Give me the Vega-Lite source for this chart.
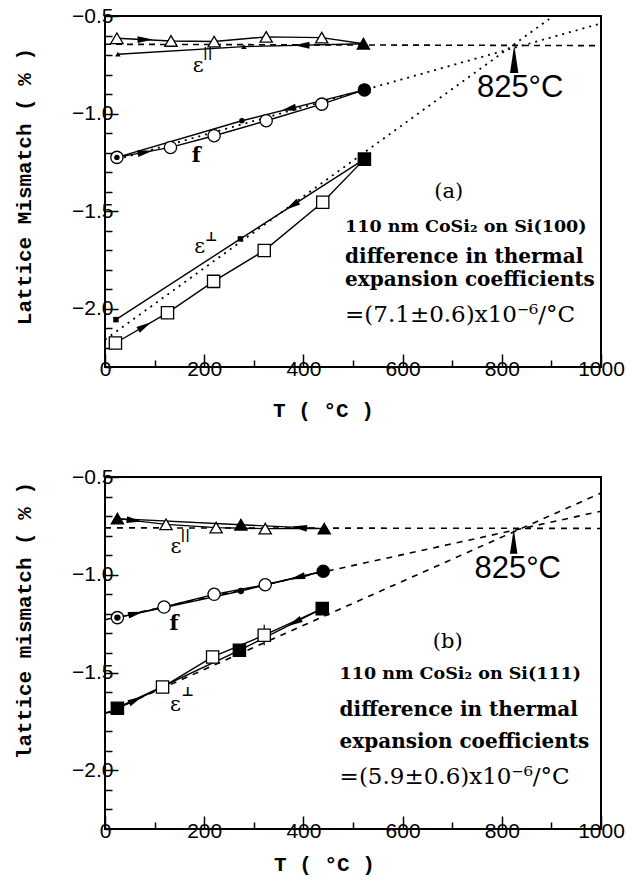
{
  "$schema": "https://vega.github.io/schema/vega-lite/v6.json",
  "padding": {"left": 12, "top": 4, "right": 0, "bottom": 5},
  "background": "white",
  "config": {
    "view": {"stroke": "black", "strokeWidth": 2},
    "axis": {
      "domain": false, "grid": false,
      "labelFont": "Liberation Sans", "labelFontSize": 21, "labelColor": "black",
      "titleFont": "Liberation Mono", "titleFontSize": 21, "titleFontWeight": "bold", "titleColor": "black",
      "tickColor": "black", "tickWidth": 1.5
    }
  },
  "datasets": {
    "a_fit": [
      {"s": "par", "T": 0, "v": -0.645}, {"s": "par", "T": 1000, "v": -0.652},
      {"s": "f", "T": 25, "v": -1.235}, {"s": "f", "T": 1000, "v": -0.538},
      {"s": "perp", "T": 0, "v": -2.16}, {"s": "perp", "T": 904, "v": -0.5}
    ],
    "a_lines": [
      {"s": "par", "p": "heat", "T": 24, "v": -0.614}, {"s": "par", "p": "heat", "T": 133, "v": -0.628},
      {"s": "par", "p": "heat", "T": 220, "v": -0.631}, {"s": "par", "p": "heat", "T": 325, "v": -0.607},
      {"s": "par", "p": "heat", "T": 437, "v": -0.611}, {"s": "par", "p": "heat", "T": 521, "v": -0.642},
      {"s": "par", "p": "cool", "T": 521, "v": -0.642}, {"s": "par", "p": "cool", "T": 280, "v": -0.657},
      {"s": "par", "p": "cool", "T": 26, "v": -0.696},
      {"s": "f", "p": "heat", "T": 24, "v": -1.225}, {"s": "f", "p": "heat", "T": 132, "v": -1.174},
      {"s": "f", "p": "heat", "T": 220, "v": -1.114}, {"s": "f", "p": "heat", "T": 325, "v": -1.037},
      {"s": "f", "p": "heat", "T": 437, "v": -0.952}, {"s": "f", "p": "heat", "T": 523, "v": -0.879},
      {"s": "f", "p": "cool", "T": 523, "v": -0.879}, {"s": "f", "p": "cool", "T": 276, "v": -1.037},
      {"s": "f", "p": "cool", "T": 24, "v": -1.225},
      {"s": "perp", "p": "heat", "T": 21, "v": -2.177}, {"s": "perp", "p": "heat", "T": 126, "v": -2.022},
      {"s": "perp", "p": "heat", "T": 219, "v": -1.861}, {"s": "perp", "p": "heat", "T": 321, "v": -1.703},
      {"s": "perp", "p": "heat", "T": 439, "v": -1.455}, {"s": "perp", "p": "heat", "T": 523, "v": -1.234},
      {"s": "perp", "p": "cool", "T": 523, "v": -1.234}, {"s": "perp", "p": "cool", "T": 273, "v": -1.643},
      {"s": "perp", "p": "cool", "T": 22, "v": -2.057}
    ],
    "a_pts": [
      {"s": "par", "m": "open", "T": 24, "v": -0.614}, {"s": "par", "m": "open", "T": 133, "v": -0.628},
      {"s": "par", "m": "open", "T": 220, "v": -0.631}, {"s": "par", "m": "open", "T": 325, "v": -0.607},
      {"s": "par", "m": "open", "T": 437, "v": -0.611}, {"s": "par", "m": "filled", "T": 521, "v": -0.642},
      {"s": "par", "m": "small", "T": 280, "v": -0.657}, {"s": "par", "m": "small", "T": 26, "v": -0.696},
      {"s": "f", "m": "open", "T": 24, "v": -1.225}, {"s": "f", "m": "open", "T": 132, "v": -1.174},
      {"s": "f", "m": "open", "T": 220, "v": -1.114}, {"s": "f", "m": "open", "T": 325, "v": -1.037},
      {"s": "f", "m": "open", "T": 437, "v": -0.952}, {"s": "f", "m": "filled", "T": 523, "v": -0.879},
      {"s": "f", "m": "small", "T": 276, "v": -1.037}, {"s": "f", "m": "small", "T": 24, "v": -1.225},
      {"s": "perp", "m": "open", "T": 21, "v": -2.177}, {"s": "perp", "m": "open", "T": 126, "v": -2.022},
      {"s": "perp", "m": "open", "T": 219, "v": -1.861}, {"s": "perp", "m": "open", "T": 321, "v": -1.703},
      {"s": "perp", "m": "open", "T": 439, "v": -1.455}, {"s": "perp", "m": "filled", "T": 523, "v": -1.234},
      {"s": "perp", "m": "small", "T": 273, "v": -1.643}, {"s": "perp", "m": "small", "T": 22, "v": -2.057}
    ],
    "a_arr": [
      {"T": 81, "v": -0.621, "rot": 0}, {"T": 397, "v": -0.65, "rot": 180},
      {"T": 81, "v": -1.198, "rot": 349}, {"T": 370, "v": -0.977, "rot": 166},
      {"T": 80, "v": -2.09, "rot": 330}, {"T": 377, "v": -1.473, "rot": 147}
    ],
    "a_ptr": [{"T": 825, "v": -0.72}],
    "a_825": [{"T": 837, "v": -0.868, "t": "825°C"}],
    "a_greek": [
      {"T": 188, "v": -0.756, "t": "ε"}, {"T": 191, "v": -1.686, "t": "ε"}
    ],
    "a_sup": [
      {"T": 207, "v": -0.69, "t": "||"}, {"T": 214, "v": -1.635, "t": "⊥"}
    ],
    "a_f": [{"T": 184, "v": -1.22, "t": "f"}],
    "a_tag": [{"T": 693, "v": -1.404, "t": "(a)"}],
    "a_note1": [{"T": 484, "v": -1.58, "t": "110 nm CoSi₂ on Si(100)"}],
    "a_note2": [
      {"T": 484, "v": -1.737, "t": "difference in thermal"},
      {"T": 484, "v": -1.856, "t": "expansion coefficients"}
    ],
    "a_note3": [{"T": 484, "v": -2.035, "t": "=(7.1±0.6)x10⁻⁶/°C"}],

    "b_fit": [
      {"s": "par", "T": 0, "v": -0.76}, {"s": "par", "T": 1000, "v": -0.763},
      {"s": "f", "T": 0, "v": -1.23}, {"s": "f", "T": 1000, "v": -0.675},
      {"s": "perp", "T": 0, "v": -1.71}, {"s": "perp", "T": 1000, "v": -0.582}
    ],
    "b_lines": [
      {"s": "par", "p": "heat", "T": 25, "v": -0.713}, {"s": "par", "p": "heat", "T": 123, "v": -0.742},
      {"s": "par", "p": "heat", "T": 224, "v": -0.759}, {"s": "par", "p": "heat", "T": 323, "v": -0.764},
      {"s": "par", "p": "heat", "T": 442, "v": -0.764},
      {"s": "par", "p": "cool", "T": 442, "v": -0.764}, {"s": "par", "p": "cool", "T": 274, "v": -0.744},
      {"s": "par", "p": "cool", "T": 25, "v": -0.713},
      {"s": "f", "p": "heat", "T": 25, "v": -1.219}, {"s": "f", "p": "heat", "T": 119, "v": -1.165},
      {"s": "f", "p": "heat", "T": 220, "v": -1.10}, {"s": "f", "p": "heat", "T": 323, "v": -1.051},
      {"s": "f", "p": "heat", "T": 440, "v": -0.982},
      {"s": "f", "p": "cool", "T": 440, "v": -0.982}, {"s": "f", "p": "cool", "T": 274, "v": -1.083},
      {"s": "f", "p": "cool", "T": 25, "v": -1.219},
      {"s": "perp", "p": "heat", "T": 25, "v": -1.685}, {"s": "perp", "p": "heat", "T": 116, "v": -1.574},
      {"s": "perp", "p": "heat", "T": 217, "v": -1.42}, {"s": "perp", "p": "heat", "T": 321, "v": -1.309},
      {"s": "perp", "p": "heat", "T": 438, "v": -1.173},
      {"s": "perp", "p": "cool", "T": 438, "v": -1.173}, {"s": "perp", "p": "cool", "T": 271, "v": -1.386},
      {"s": "perp", "p": "cool", "T": 25, "v": -1.68}
    ],
    "b_pts": [
      {"s": "par", "m": "open", "T": 123, "v": -0.742}, {"s": "par", "m": "open", "T": 224, "v": -0.759},
      {"s": "par", "m": "open", "T": 323, "v": -0.764}, {"s": "par", "m": "filled", "T": 25, "v": -0.713},
      {"s": "par", "m": "filled", "T": 274, "v": -0.744}, {"s": "par", "m": "filled", "T": 442, "v": -0.764},
      {"s": "f", "m": "open", "T": 25, "v": -1.219}, {"s": "f", "m": "open", "T": 119, "v": -1.165},
      {"s": "f", "m": "open", "T": 220, "v": -1.10}, {"s": "f", "m": "open", "T": 323, "v": -1.051},
      {"s": "f", "m": "filled", "T": 440, "v": -0.982}, {"s": "f", "m": "small", "T": 274, "v": -1.083},
      {"s": "f", "m": "small", "T": 25, "v": -1.219},
      {"s": "perp", "m": "open", "T": 116, "v": -1.574}, {"s": "perp", "m": "open", "T": 217, "v": -1.42},
      {"s": "perp", "m": "open", "T": 321, "v": -1.309}, {"s": "perp", "m": "filled", "T": 25, "v": -1.683},
      {"s": "perp", "m": "filled", "T": 271, "v": -1.386}, {"s": "perp", "m": "filled", "T": 438, "v": -1.173}
    ],
    "b_arr": [
      {"T": 59, "v": -0.723, "rot": 7}, {"T": 392, "v": -0.758, "rot": 187},
      {"T": 62, "v": -1.198, "rot": 347}, {"T": 388, "v": -1.014, "rot": 166},
      {"T": 62, "v": -1.64, "rot": 334}, {"T": 382, "v": -1.244, "rot": 153}
    ],
    "b_err": [{"T": 321, "lo": -1.36, "hi": -1.255}],
    "b_ptr": [{"T": 824, "v": -0.828}],
    "b_825": [{"T": 832, "v": -0.969, "t": "825°C"}],
    "b_greek": [
      {"T": 143, "v": -0.858, "t": "ε"}, {"T": 142, "v": -1.667, "t": "ε"}
    ],
    "b_sup": [
      {"T": 162, "v": -0.797, "t": "||"}, {"T": 167, "v": -1.6, "t": "⊥"}
    ],
    "b_f": [{"T": 139, "v": -1.25, "t": "f"}],
    "b_tag": [{"T": 691, "v": -1.344, "t": "(b)"}],
    "b_note1": [{"T": 473, "v": -1.506, "t": "110 nm CoSi₂ on Si(111)"}],
    "b_note2": [
      {"T": 473, "v": -1.693, "t": "difference in thermal"},
      {"T": 473, "v": -1.855, "t": "expansion coefficients"}
    ],
    "b_note3": [{"T": 473, "v": -2.034, "t": "=(5.9±0.6)x10⁻⁶/°C"}]
  },
  "bounds": "flush",
  "spacing": 110,
  "vconcat": [
    {
      "width": 496, "height": 351,
      "encoding": {
        "x": {"field": "T", "type": "quantitative", "scale": {"domain": [0, 1000], "nice": false},
          "axis": {"title": "T ( °C )", "values": [0,100,200,300,400,500,600,700,800,900,1000],
            "labelExpr": "round(datum.value) % 200 == 0 ? format(datum.value, 'd') : ''",
            "labelFlush": false, "labelOverlap": false,
            "tickSize": {"condition": {"test": "round(datum.value) % 200 == 0", "value": -13}, "value": -7},
            "labelPadding": 4, "titlePadding": 14, "titleX": 218, "titleAnchor": "start", "titleAlign": "center"}},
        "y": {"field": "v", "type": "quantitative", "scale": {"domain": [-2.3, -0.5], "nice": false, "zero": false},
          "axis": {"title": "Lattice Mismatch ( % )", "values": [-0.5,-0.6,-0.7,-0.8,-0.9,-1.0,-1.1,-1.2,-1.3,-1.4,-1.5,-1.6,-1.7,-1.8,-1.9,-2.0,-2.1,-2.2,-2.3],
            "labelExpr": "round(datum.value*10) % 5 == 0 ? format(datum.value, '.1f') : ''",
            "labelFlush": false, "labelOverlap": false,
            "tickSize": {"condition": {"test": "round(datum.value*10) % 5 == 0", "value": -13}, "value": -7},
            "labelPadding": 5, "titlePadding": 37, "titleY": 170, "titleAlign": "center"}}
      },
      "layer": [
        {"data": {"name": "a_fit"}, "transform": [{"filter": "datum.s != 'par'"}],
         "mark": {"type": "line", "color": "black", "strokeWidth": 1.8, "strokeDash": [2, 5]},
         "encoding": {"detail": {"field": "s"}}},
        {"data": {"name": "a_fit"}, "transform": [{"filter": "datum.s == 'par'"}],
         "mark": {"type": "line", "color": "black", "strokeWidth": 1.6, "strokeDash": [6, 5]},
         "encoding": {"detail": {"field": "s"}}},
        {"data": {"name": "a_lines"},
         "mark": {"type": "line", "color": "black", "strokeWidth": 1.4},
         "encoding": {"detail": [{"field": "s"}, {"field": "p"}]}},
        {"data": {"name": "a_arr"},
         "mark": {"type": "point", "shape": "M1,0L-1,-0.45L-1,0.45Z", "filled": true, "color": "black", "opacity": 1, "size": 230},
         "encoding": {"angle": {"field": "rot", "type": "quantitative", "scale": null}}},
        {"data": {"name": "a_pts"}, "transform": [{"filter": "datum.m != 'small'"}],
         "mark": {"type": "point", "stroke": "black", "strokeWidth": 1.3, "opacity": 1, "size": 150},
         "encoding": {
           "shape": {"field": "s", "type": "nominal", "scale": {"domain": ["par","f","perp"], "range": ["triangle-up","circle","square"]}, "legend": null},
           "fill": {"field": "m", "type": "nominal", "scale": {"domain": ["open","filled"], "range": ["white","black"]}, "legend": null}
         }},
        {"data": {"name": "a_pts"}, "transform": [{"filter": "datum.m == 'small'"}],
         "mark": {"type": "point", "filled": true, "color": "black", "opacity": 1, "size": 30},
         "encoding": {
           "shape": {"field": "s", "type": "nominal", "scale": {"domain": ["par","f","perp"], "range": ["triangle-up","circle","square"]}, "legend": null}
         }},
        {"data": {"name": "a_ptr"},
         "mark": {"type": "point", "shape": "M0,-1L0.3,1L-0.3,1Z", "filled": true, "color": "black", "opacity": 1, "size": 784}},
        {"data": {"name": "a_825"},
         "mark": {"type": "text", "font": "Liberation Sans", "fontSize": 31, "color": "black", "align": "center", "baseline": "middle"},
         "encoding": {"text": {"field": "t"}}},
        {"data": {"name": "a_greek"},
         "mark": {"type": "text", "font": "DejaVu Serif", "fontSize": 21, "color": "black", "align": "center", "baseline": "middle"},
         "encoding": {"text": {"field": "t"}}},
        {"data": {"name": "a_sup"},
         "mark": {"type": "text", "font": "DejaVu Serif", "fontSize": 13, "fontWeight": "bold", "color": "black", "align": "center", "baseline": "middle"},
         "encoding": {"text": {"field": "t"}}},
        {"data": {"name": "a_f"},
         "mark": {"type": "text", "font": "DejaVu Serif", "fontSize": 21, "fontWeight": "bold", "color": "black", "align": "center", "baseline": "middle"},
         "encoding": {"text": {"field": "t"}}},
        {"data": {"name": "a_tag"},
         "mark": {"type": "text", "font": "DejaVu Serif", "fontSize": 21, "color": "black", "align": "center", "baseline": "middle"},
         "encoding": {"text": {"field": "t"}}},
        {"data": {"name": "a_note1"},
         "mark": {"type": "text", "font": "DejaVu Serif", "fontSize": 17.5, "fontWeight": "bold", "color": "black", "align": "left", "baseline": "middle"},
         "encoding": {"text": {"field": "t"}}},
        {"data": {"name": "a_note2"},
         "mark": {"type": "text", "font": "DejaVu Serif", "fontSize": 20, "fontWeight": "bold", "color": "black", "align": "left", "baseline": "middle"},
         "encoding": {"text": {"field": "t"}}},
        {"data": {"name": "a_note3"},
         "mark": {"type": "text", "font": "DejaVu Serif", "fontSize": 23, "color": "black", "align": "left", "baseline": "middle"},
         "encoding": {"text": {"field": "t"}}}
      ]
    },
    {
      "width": 496, "height": 352,
      "encoding": {
        "x": {"field": "T", "type": "quantitative", "scale": {"domain": [0, 1000], "nice": false},
          "axis": {"title": "T ( °C )", "values": [0,100,200,300,400,500,600,700,800,900,1000],
            "labelExpr": "round(datum.value) % 200 == 0 ? format(datum.value, 'd') : ''",
            "labelFlush": false, "labelOverlap": false,
            "tickSize": {"condition": {"test": "round(datum.value) % 200 == 0", "value": -13}, "value": -7},
            "labelPadding": 4, "titlePadding": 6, "titleX": 219, "titleAnchor": "start", "titleAlign": "center"}},
        "y": {"field": "v", "type": "quantitative", "scale": {"domain": [-2.3, -0.5], "nice": false, "zero": false},
          "axis": {"title": "lattice mismatch ( % )", "values": [-0.5,-0.6,-0.7,-0.8,-0.9,-1.0,-1.1,-1.2,-1.3,-1.4,-1.5,-1.6,-1.7,-1.8,-1.9,-2.0,-2.1,-2.2,-2.3],
            "labelExpr": "round(datum.value*10) % 5 == 0 ? format(datum.value, '.1f') : ''",
            "labelFlush": false, "labelOverlap": false,
            "tickSize": {"condition": {"test": "round(datum.value*10) % 5 == 0", "value": -13}, "value": -7},
            "labelPadding": 5, "titlePadding": 37, "titleY": 143, "titleAlign": "center"}}
      },
      "layer": [
        {"data": {"name": "b_fit"},
         "mark": {"type": "line", "color": "black", "strokeWidth": 1.6, "strokeDash": [6, 6]},
         "encoding": {"detail": {"field": "s"}}},
        {"data": {"name": "b_lines"},
         "mark": {"type": "line", "color": "black", "strokeWidth": 1.4},
         "encoding": {"detail": [{"field": "s"}, {"field": "p"}]}},
        {"data": {"name": "b_err"},
         "mark": {"type": "rule", "color": "black", "strokeWidth": 1.2},
         "encoding": {"y": {"field": "lo", "type": "quantitative"}, "y2": {"field": "hi"}}},
        {"data": {"name": "b_arr"},
         "mark": {"type": "point", "shape": "M1,0L-1,-0.45L-1,0.45Z", "filled": true, "color": "black", "opacity": 1, "size": 230},
         "encoding": {"angle": {"field": "rot", "type": "quantitative", "scale": null}}},
        {"data": {"name": "b_pts"}, "transform": [{"filter": "datum.m != 'small'"}],
         "mark": {"type": "point", "stroke": "black", "strokeWidth": 1.3, "opacity": 1, "size": 150},
         "encoding": {
           "shape": {"field": "s", "type": "nominal", "scale": {"domain": ["par","f","perp"], "range": ["triangle-up","circle","square"]}, "legend": null},
           "fill": {"field": "m", "type": "nominal", "scale": {"domain": ["open","filled"], "range": ["white","black"]}, "legend": null}
         }},
        {"data": {"name": "b_pts"}, "transform": [{"filter": "datum.m == 'small'"}],
         "mark": {"type": "point", "filled": true, "color": "black", "opacity": 1, "size": 40},
         "encoding": {
           "shape": {"field": "s", "type": "nominal", "scale": {"domain": ["par","f","perp"], "range": ["triangle-up","circle","square"]}, "legend": null}
         }},
        {"data": {"name": "b_ptr"},
         "mark": {"type": "point", "shape": "M0,-1L0.3,1L-0.3,1Z", "filled": true, "color": "black", "opacity": 1, "size": 625}},
        {"data": {"name": "b_825"},
         "mark": {"type": "text", "font": "Liberation Sans", "fontSize": 31, "color": "black", "align": "center", "baseline": "middle"},
         "encoding": {"text": {"field": "t"}}},
        {"data": {"name": "b_greek"},
         "mark": {"type": "text", "font": "DejaVu Serif", "fontSize": 21, "color": "black", "align": "center", "baseline": "middle"},
         "encoding": {"text": {"field": "t"}}},
        {"data": {"name": "b_sup"},
         "mark": {"type": "text", "font": "DejaVu Serif", "fontSize": 13, "fontWeight": "bold", "color": "black", "align": "center", "baseline": "middle"},
         "encoding": {"text": {"field": "t"}}},
        {"data": {"name": "b_f"},
         "mark": {"type": "text", "font": "DejaVu Serif", "fontSize": 21, "fontWeight": "bold", "color": "black", "align": "center", "baseline": "middle"},
         "encoding": {"text": {"field": "t"}}},
        {"data": {"name": "b_tag"},
         "mark": {"type": "text", "font": "DejaVu Serif", "fontSize": 21, "color": "black", "align": "center", "baseline": "middle"},
         "encoding": {"text": {"field": "t"}}},
        {"data": {"name": "b_note1"},
         "mark": {"type": "text", "font": "DejaVu Serif", "fontSize": 17.5, "fontWeight": "bold", "color": "black", "align": "left", "baseline": "middle"},
         "encoding": {"text": {"field": "t"}}},
        {"data": {"name": "b_note2"},
         "mark": {"type": "text", "font": "DejaVu Serif", "fontSize": 20, "fontWeight": "bold", "color": "black", "align": "left", "baseline": "middle"},
         "encoding": {"text": {"field": "t"}}},
        {"data": {"name": "b_note3"},
         "mark": {"type": "text", "font": "DejaVu Serif", "fontSize": 23, "color": "black", "align": "left", "baseline": "middle"},
         "encoding": {"text": {"field": "t"}}}
      ]
    }
  ]
}
